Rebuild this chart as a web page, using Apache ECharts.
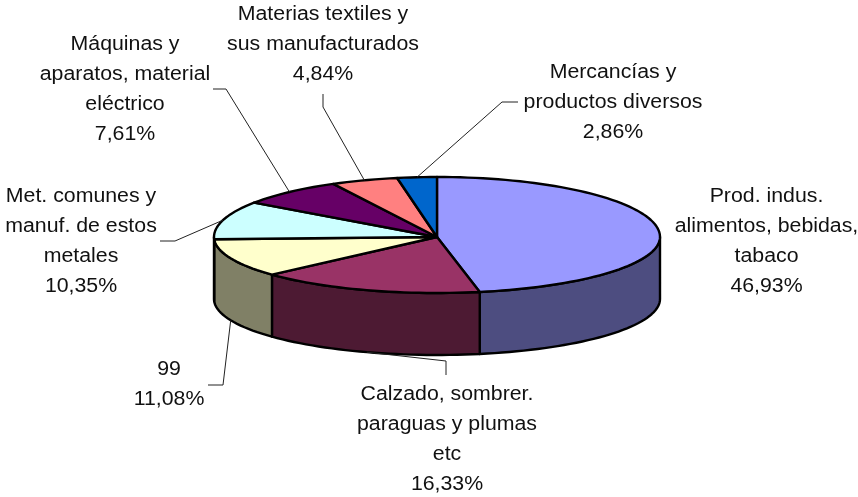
<!DOCTYPE html>
<html>
<head>
<meta charset="utf-8">
<style>html,body{margin:0;padding:0;background:#fff}#c{width:858px;height:497px}</style>
<script src="https://cdn.jsdelivr.net/npm/echarts@6/dist/echarts.min.js"></script>
</head>
<body>
<div id="c"></div>
<script>
const categories = [
  'Prod. indus.\nalimentos, bebidas,\ntabaco',
  'Calzado, sombrer.\nparaguas y plumas\netc',
  '99',
  'Met. comunes y\nmanuf. de estos\nmetales',
  'Máquinas y\naparatos, material\neléctrico',
  'Materias textiles y\nsus manufacturados',
  'Mercancías y\nproductos diversos'
];
const shares = [46.93, 16.33, 11.08, 10.35, 7.61, 4.84, 2.86];
const topColors = ['#9999FF', '#993366', '#FFFFCC', '#CCFFFF', '#660066', '#FF8080', '#0066CC'];
const sideColors = ['#4D4D80', '#4D1A33', '#808066', '#668080', '#330033', '#804040', '#003366'];

// Layout of the pie and its labels (not data)
const pie = { cx: 437, cy: 237, rx: 223, ryBack: 60, ryFront: 56, depth: 62 };
const labelCenters = [[766.5, 241], [447, 439], [169, 384], [81, 241], [125, 89], [323, 44], [613, 102]];
const leaderElbows = [
  null,
  [[446, 375], [446, 361]],
  [[208, 385], [223, 385]],
  [[160, 241], [175, 241]],
  [[213, 89], [226, 89]],
  [[323, 94], [323, 107]],
  [[518, 102], [502, 102]]
];

const total = shares.reduce((a, b) => a + b, 0);
const cumulative = [];
shares.reduce((a, b, i) => (cumulative[i] = a, a + b), 0);
const ang = i => cumulative[i] / total * 2 * Math.PI;
const rimPoint = (t, drop) => {
  const c = Math.cos(t);
  const ry = c >= 0 ? pie.ryBack : pie.ryFront;
  return [pie.cx + pie.rx * Math.sin(t), pie.cy - ry * c + (drop || 0)];
};
const arc = (a, b, drop) => {
  const n = Math.max(2, Math.ceil((b - a) / (Math.PI / 90)));
  const pts = [];
  for (let k = 0; k <= n; k++) pts.push(rimPoint(a + (b - a) * k / n, drop));
  return pts;
};
const edge = { stroke: '#000', lineWidth: 2.4, lineJoin: 'round' };

function renderSide(params, api) {
  const i = params.dataIndex;
  const a = Math.max(ang(i), Math.PI / 2);
  const b = Math.min(ang(i) + api.value(0) / total * 2 * Math.PI, 3 * Math.PI / 2);
  if (b <= a) return { type: 'group', children: [] };
  const points = arc(a, b, 0).concat(arc(a, b, pie.depth).reverse());
  return { type: 'polygon', shape: { points }, style: { fill: sideColors[i], ...edge } };
}
function renderTop(params, api) {
  const i = params.dataIndex;
  const a = ang(i), b = a + api.value(0) / total * 2 * Math.PI;
  const points = [[pie.cx, pie.cy]].concat(arc(a, b, 0));
  return { type: 'polygon', shape: { points }, style: { fill: topColors[i], ...edge } };
}
function renderLabel(params, api) {
  const i = params.dataIndex;
  const v = api.value(0);
  const children = [];
  const pct = v.toFixed(2).replace('.', ',') + '%';
  children.push({
    type: 'text',
    x: labelCenters[i][0], y: labelCenters[i][1],
    scaleX: 1.065,
    style: {
      text: categories[i] + '\n' + pct,
      x: 0, y: 0,
      align: 'center', verticalAlign: 'middle',
      fontFamily: '"Liberation Sans", Arial, sans-serif', fontSize: 20, lineHeight: 30,
      fill: '#111'
    }
  });
  if (leaderElbows[i]) {
    const mid = ang(i) + v / total * Math.PI;
    const onFront = Math.cos(mid) < 0 && i !== 3;
    const end = rimPoint(mid, onFront ? pie.depth : 0);
    children.push({
      type: 'polyline',
      shape: { points: leaderElbows[i].concat([end]) },
      style: { stroke: '#222', lineWidth: 1, fill: null }
    });
  }
  return { type: 'group', children };
}
const values = shares.map(v => [v]);
const base = { type: 'custom', coordinateSystem: 'none', silent: true, animation: false, data: values };
const chart = echarts.init(document.getElementById('c'), null, { renderer: 'canvas' });
chart.setOption({
  backgroundColor: '#fff',
  animation: false,
  series: [
    { ...base, name: 'side', renderItem: renderSide, z: 1 },
    { ...base, name: 'top', renderItem: renderTop, z: 2 },
    { ...base, name: 'labels', renderItem: renderLabel, z: 3 }
  ]
});
</script>
</body>
</html>
